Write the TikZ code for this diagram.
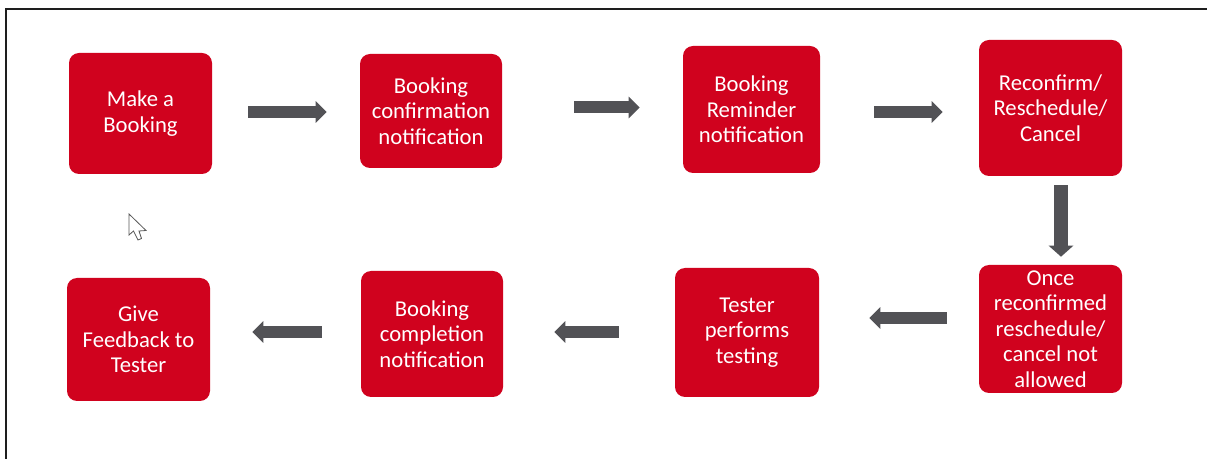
\documentclass[tikz,border=0pt]{standalone}
\usepackage{fontspec}
\setmainfont{Carlito}
\usetikzlibrary{arrows.meta,calc}
\definecolor{boxred}{RGB}{208,2,30}
\definecolor{arrowgray}{RGB}{82,82,86}
\definecolor{framegray}{RGB}{30,30,30}
\tikzset{
  stepbox/.style={rectangle, rounded corners=7.5pt, fill=boxred, text=white,
    align=center, inner sep=2pt, font=\fontsize{17pt}{19.2pt}\selectfont},
  conn/.style={draw=arrowgray, line width=9pt,
    -{Triangle[length=8.25pt,width=15.75pt]}},
  connv/.style={draw=arrowgray, line width=10.5pt,
    -{Triangle[length=8.25pt,width=18pt]}},
  frameline/.style={draw=framegray, line width=1.5pt},
}
\begin{document}
\begin{tikzpicture}[x=0.75pt,y=-0.75pt]
\useasboundingbox (0,0) rectangle (1207,459);
\fill[white] (0,0) rectangle (1207,459);
% frame
\coordinate (ftl) at (6,9);
\coordinate (ftr) at (1207,9);
\coordinate (fbl) at (6,459);
\draw[frameline] (ftr) -- (ftl) -- (fbl);
% boxes
\node[stepbox, minimum width=107.25pt, minimum height=90.75pt] (b1) at (140.5,113.5) {Make a\\Booking};
\node[stepbox, minimum width=106.5pt, minimum height=85.5pt] (b2) at (431,111) {Booking\\confirmation\\notification};
\node[stepbox, minimum width=102.75pt, minimum height=95.25pt] (b3) at (751.5,109.5) {Booking\\Reminder\\notification};
\node[stepbox, minimum width=107.25pt, minimum height=102pt] (b4) at (1050.5,108) {Reconfirm/\\Reschedule/\\Cancel};
\node[stepbox, minimum width=107.25pt, minimum height=96pt] (b5) at (1050.5,329) {Once\\reconfirmed\\reschedule/\\cancel not\\allowed};
\node[stepbox, minimum width=108pt, minimum height=96.75pt] (b6) at (747,332.5) {Tester\\performs\\testing};
\node[stepbox, minimum width=106.5pt, minimum height=94.5pt] (b7) at (432,334) {Booking\\completion\\notification};
\node[stepbox, minimum width=107.25pt, minimum height=92.25pt] (b8) at (138.5,339.5) {Give\\Feedback to\\Tester};
% connectors
\draw[conn] ($(b1.east)+(36,-1.5)$) -- ($(b2.west)+(-33,1)$);
\draw[conn] ($(b2.east)+(72,-3.5)$) -- ($(b3.west)+(-43,-2)$);
\draw[conn] ($(b3.east)+(54,2.5)$) -- ($(b4.west)+(-36,4)$);
\draw[connv] ($(b4.south)+(10.5,9)$) -- ($(b5.north)+(10.5,-8)$);
\draw[conn] ($(b5.west)+(-32,-11)$) -- ($(b6.east)+(50,-14.5)$);
\draw[conn] ($(b6.west)+(-56,-0.5)$) -- ($(b7.east)+(51,-2)$);
\draw[conn] ($(b7.west)+(-39,-2)$) -- ($(b8.east)+(42,-7.5)$);
% mouse pointer
\draw[fill=white, draw=gray!70!black, line width=0.6pt, line join=miter]
  (129,214) -- (129,235) -- (133.5,231) -- (138,240) -- (141.5,238.5) -- (139,231) -- (146,230.5) -- cycle;
\end{tikzpicture}
\end{document}
